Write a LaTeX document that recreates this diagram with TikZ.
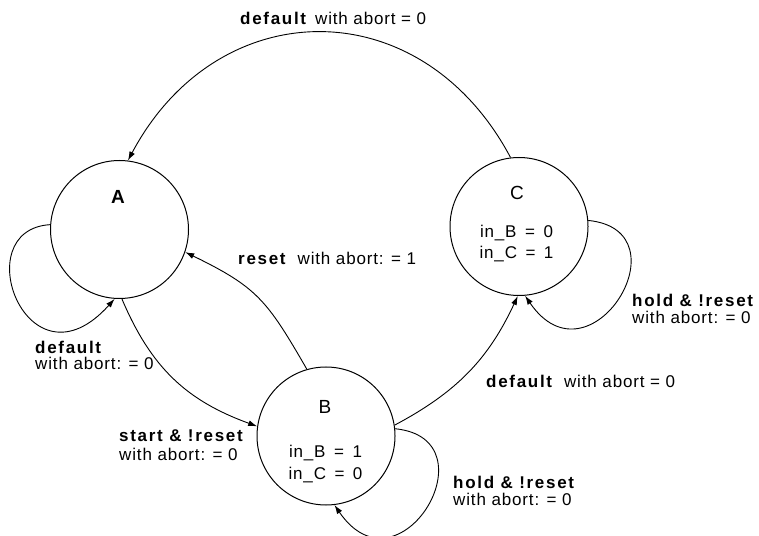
\documentclass[tikz,border=0pt]{standalone}
\usepackage{fontspec}
\setmainfont{Liberation Sans}[LetterSpace=5]
\newfontfamily\kwfont{Liberation Sans}[LetterSpace=10]
\newfontfamily\plainfont{Liberation Sans}
\usetikzlibrary{arrows.meta}
% bold, slightly tracked keyword of a transition guard
\newcommand{\kw}[1]{{\kwfont\bfseries #1}}
\newcommand{\eqsp}{\hspace{0.5em}}
\begin{document}
\begin{tikzpicture}[x=1pt,y=1pt,
  state/.style={draw, circle, minimum size=138pt, inner sep=0pt, line width=1pt},
  trans/.style={-{Latex[length=9pt,width=6pt]}, line width=0.9pt},
  lbl/.style={inner sep=0pt, anchor=base west, font=\fontsize{17}{19}\selectfont},
  sname/.style={inner sep=0pt, anchor=base, font=\plainfont\fontsize{19}{21}\selectfont},
  vals/.style={inner sep=0pt, anchor=base, font=\fontsize{17}{19}\selectfont}]
\useasboundingbox (0,0) rectangle (759,535);

% states
\node[state] (A) at (119.5,305.5) {};
\node[state] (B) at (326,99) {};
\node[state] (C) at (519,308.5) {};

% state names and outputs
\node[sname] (Aname) at (118,331.7) {\bfseries A};
\node[sname] (Bname) at (325,121.7) {B};
\node[sname] (Cname) at (517,335) {C};
\node[vals] (Bv1) at (325.5,77.7) {in\_B\eqsp=\eqsp 1};
\node[vals] (Bv2) at (325.5,55.7) {in\_C\eqsp=\eqsp 0};
\node[vals] (Cv1) at (516.5,297.7) {in\_B\eqsp=\eqsp 0};
\node[vals] (Cv2) at (516.5,276.7) {in\_C\eqsp=\eqsp 1};

% transitions
\draw[trans] (C.97.6) .. controls +(118:191) and +(62:191) .. (A.83);
\draw[trans] (A.176) .. controls +(-85,-5) and +(-87,-97) .. (A.266);
\draw[trans] (A.272) .. controls +(-67:75) and +(160:75) .. (B.172.5);
\draw[trans] (B.106) .. controls +(120:80) and +(-26:80) .. (A.341);
\draw[trans] (B.9) .. controls +(28:70) and +(245:70) .. (C.269);
\draw[trans] (C.5) .. controls +(100,-10) and +(65,-95) .. (C.275);
\draw[trans] (B.6.5) .. controls +(100,-10) and +(65,-95) .. (B.277);

% transition labels
\node[lbl] (lCA) at (240,510) {\kw{default}\hspace{9pt}with abort = 0};
\node[lbl] (lAA1) at (35,181.7) {\kw{default}};
\node[lbl] (lAA2) at (35,165) {with abort: = 0};
\node[lbl] (lAB1) at (119,94) {\kw{start \& !reset}};
\node[lbl] (lAB2) at (119,75) {with abort: = 0};
\node[lbl] (lBA) at (238,270) {\kw{reset}\hspace{12pt}with abort: = 1};
\node[lbl] (lBC) at (486,147) {\kw{default}\hspace{12pt}with abort = 0};
\node[lbl] (lCC1) at (632,228.3) {\kw{hold \& !reset}};
\node[lbl] (lCC2) at (632,211.7) {with abort: = 0};
\node[lbl] (lBB1) at (453,46.7) {\kw{hold \& !reset}};
\node[lbl] (lBB2) at (453,29.3) {with abort: = 0};
\end{tikzpicture}
\end{document}
